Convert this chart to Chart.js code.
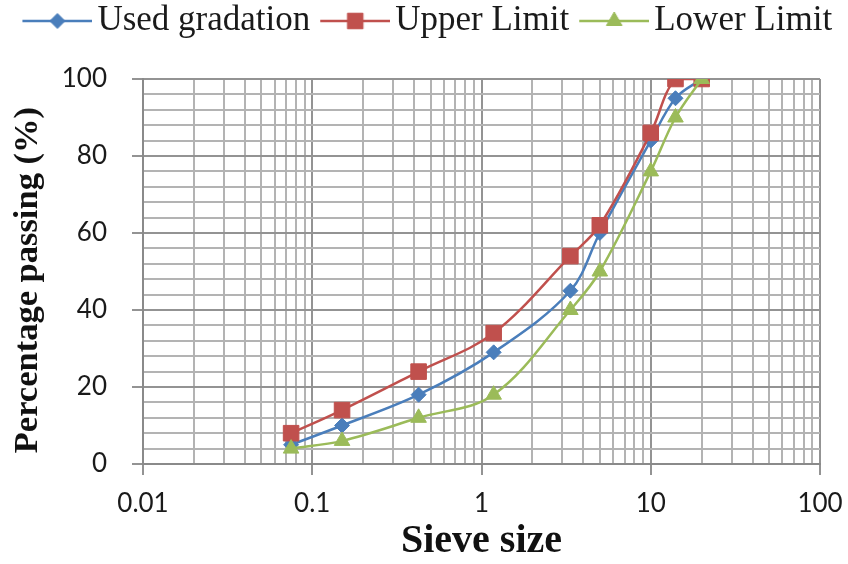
<!DOCTYPE html>
<html>
<head>
<meta charset="utf-8">
<script src="https://cdn.jsdelivr.net/npm/chart.js@4.4.0/dist/chart.umd.min.js"></script>
<style>
  html, body { margin: 0; padding: 0; background: #fff; }
  #wrap { width: 848px; height: 564px; }
</style>
</head>
<body>
<div id="wrap"><canvas id="sieveChart" width="848" height="564"></canvas></div>
<script>
/* gradation curve data: sieve size (mm) vs % passing */
const sieveSizes    = [0.075, 0.15, 0.425, 1.18, 3.35, 5, 10, 14, 20];
const usedGradation = [5, 10, 18, 29, 45, 60, 84, 95, 100];
const upperLimit    = [8, 14, 24, 34, 54, 62, 86, 100, 100];
const lowerLimit    = [4, 6, 12, 18, 40, 50, 76, 90, 100];

const xTickValues = [0.01, 0.1, 1, 10, 100];
const xTickLabels = ['0.01', '0.1', '1', '10', '100'];
const yTickLabels = [0, 20, 40, 60, 80, 100];

const BLUE = '#4a7ebb', RED = '#c0504d', GREEN = '#9bbb59';
const SERIF = "'Liberation Serif', 'Times New Roman', serif";

function toPoints(arr) {
    return sieveSizes.map((s, i) => ({ x: s, y: arr[i] }));
}

// minor log grid: 1..9 in each decade
function logGrid() {
    const vals = [];
    for (let d = 0; d < xTickValues.length - 1; d++) {
        for (let m = 1; m <= 9; m++) vals.push(+(xTickValues[d] * m).toPrecision(6));
    }
    vals.push(xTickValues[xTickValues.length - 1]);
    return vals;
}
function isDecade(v) {
    return xTickValues.some(t => Math.abs(t - v) / t < 1e-6);
}

// legend swatch: line with the marker in the middle
function legendSwatch(color, style, radius) {
    const c = document.createElement('canvas');
    c.width = 89; c.height = 28;
    const g = c.getContext('2d');
    g.strokeStyle = color; g.fillStyle = color; g.lineWidth = 2.5;
    g.beginPath(); g.moveTo(19, 14); g.lineTo(89, 14); g.stroke();
    if (Chart.helpers && Chart.helpers.drawPoint) {
        g.lineWidth = 1;
        Chart.helpers.drawPoint(g, { pointStyle: style, radius: radius, rotation: 0, borderWidth: 1 }, 54, 14);
    }
    return c;
}

const datasets = [
    { label: 'Used gradation', data: toPoints(usedGradation), borderColor: BLUE, backgroundColor: BLUE,
      pointStyle: 'rectRot', pointRadius: 7.5, order: 3 },
    { label: 'Upper Limit', data: toPoints(upperLimit), borderColor: RED, backgroundColor: RED,
      pointStyle: 'rect', pointRadius: 11, order: 2 },
    { label: 'Lower Limit', data: toPoints(lowerLimit), borderColor: GREEN, backgroundColor: GREEN,
      pointStyle: 'triangle', pointRadius: 9, order: 1 }
];
datasets.forEach(ds => {
    ds.borderWidth = 2.5;
    ds.tension = 0.35;
    ds.pointBorderWidth = 1;
    ds.pointBorderColor = ds.borderColor;
    ds.pointBackgroundColor = ds.borderColor;
    ds.showLine = true;
    ds.fill = false;
});
const swatches = datasets.map(ds => legendSwatch(ds.borderColor, ds.pointStyle, ds.pointRadius));

const tickFont = { family: 'Lato', size: 26 };

new Chart(document.getElementById('sieveChart'), {
    type: 'scatter',
    data: { datasets: datasets },
    options: {
        responsive: false,
        animation: false,
        events: [],
        layout: { padding: 0, autoPadding: false },
        plugins: {
            tooltip: { enabled: false },
            legend: {
                position: 'top',
                weight: 3000,
                labels: {
                    usePointStyle: true,
                    pointStyleWidth: 64,
                    padding: 3.5,
                    color: '#1a1a1a',
                    font: { family: SERIF, size: 35 },
                    generateLabels: chart => chart.data.datasets.map((ds, i) => ({
                        text: ds.label,
                        pointStyle: swatches[i],
                        fillStyle: ds.borderColor,
                        strokeStyle: ds.borderColor,
                        lineWidth: 0,
                        hidden: false,
                        datasetIndex: i,
                        fontColor: '#1a1a1a'
                    }))
                }
            },
            // empty spacer between legend and plot
            title: { display: true, text: '', padding: 0, font: { size: 30.5, lineHeight: 1 } }
        },
        scales: {
            x: {
                type: 'logarithmic',
                min: 0.01,
                max: 100,
                afterBuildTicks: scale => { scale.ticks = logGrid().map(v => ({ value: v })); },
                afterFit: scale => {
                    scale.height = 100;
                    // labels at the ends may hang over; don't shrink the plot for them
                    scale.paddingLeft = 0;
                    scale.paddingRight = 0;
                },
                ticks: {
                    autoSkip: false,
                    maxRotation: 0,
                    minRotation: 0,
                    padding: 13,
                    color: '#1a1a1a',
                    font: tickFont,
                    callback: value => {
                        const i = xTickValues.findIndex(t => Math.abs(t - value) / t < 1e-6);
                        return i >= 0 ? xTickLabels[i] : '';
                    }
                },
                grid: {
                    color: ctx => isDecade(ctx.tick.value) ? '#939393' : '#b3b3b3',
                    lineWidth: 2,
                    tickLength: 11,
                    tickWidth: 2,
                    tickColor: ctx => isDecade(ctx.tick.value) ? '#939393' : 'rgba(0,0,0,0)'
                },
                border: { display: true, color: '#8a8a8a', width: 2 },
                title: {
                    display: true,
                    text: 'Sieve size',
                    color: '#111',
                    font: { family: SERIF, size: 40, weight: 'bold', lineHeight: 1 },
                    padding: { top: 0, bottom: 2.5 }
                }
            },
            y: {
                min: 0,
                max: 100,
                afterFit: scale => { scale.width = 143; },
                ticks: {
                    stepSize: 4,
                    autoSkip: false,
                    padding: 25,
                    color: '#1a1a1a',
                    font: tickFont,
                    callback: value => yTickLabels.includes(value) ? String(value) : ''
                },
                grid: {
                    color: ctx => yTickLabels.includes(ctx.tick.value) ? '#939393' : '#b3b3b3',
                    lineWidth: 2,
                    tickLength: 11,
                    tickWidth: 2,
                    tickColor: ctx => yTickLabels.includes(ctx.tick.value) ? '#939393' : 'rgba(0,0,0,0)'
                },
                border: { display: true, color: '#8a8a8a', width: 2 },
                title: {
                    display: true,
                    text: 'Percentage passing (%)  ',
                    color: '#111',
                    font: { family: SERIF, size: 34.5, weight: 'bold', lineHeight: 1 },
                    padding: { top: 10.5, bottom: 0 }
                }
            },
            // empty right-hand margin so the "100" label has room
            yRight: {
                position: 'right',
                display: true,
                afterFit: scale => { scale.width = 28; },
                grid: { display: false, drawTicks: false },
                border: { display: false },
                ticks: { display: false }
            }
        }
    }
});
</script>
</body>
</html>
